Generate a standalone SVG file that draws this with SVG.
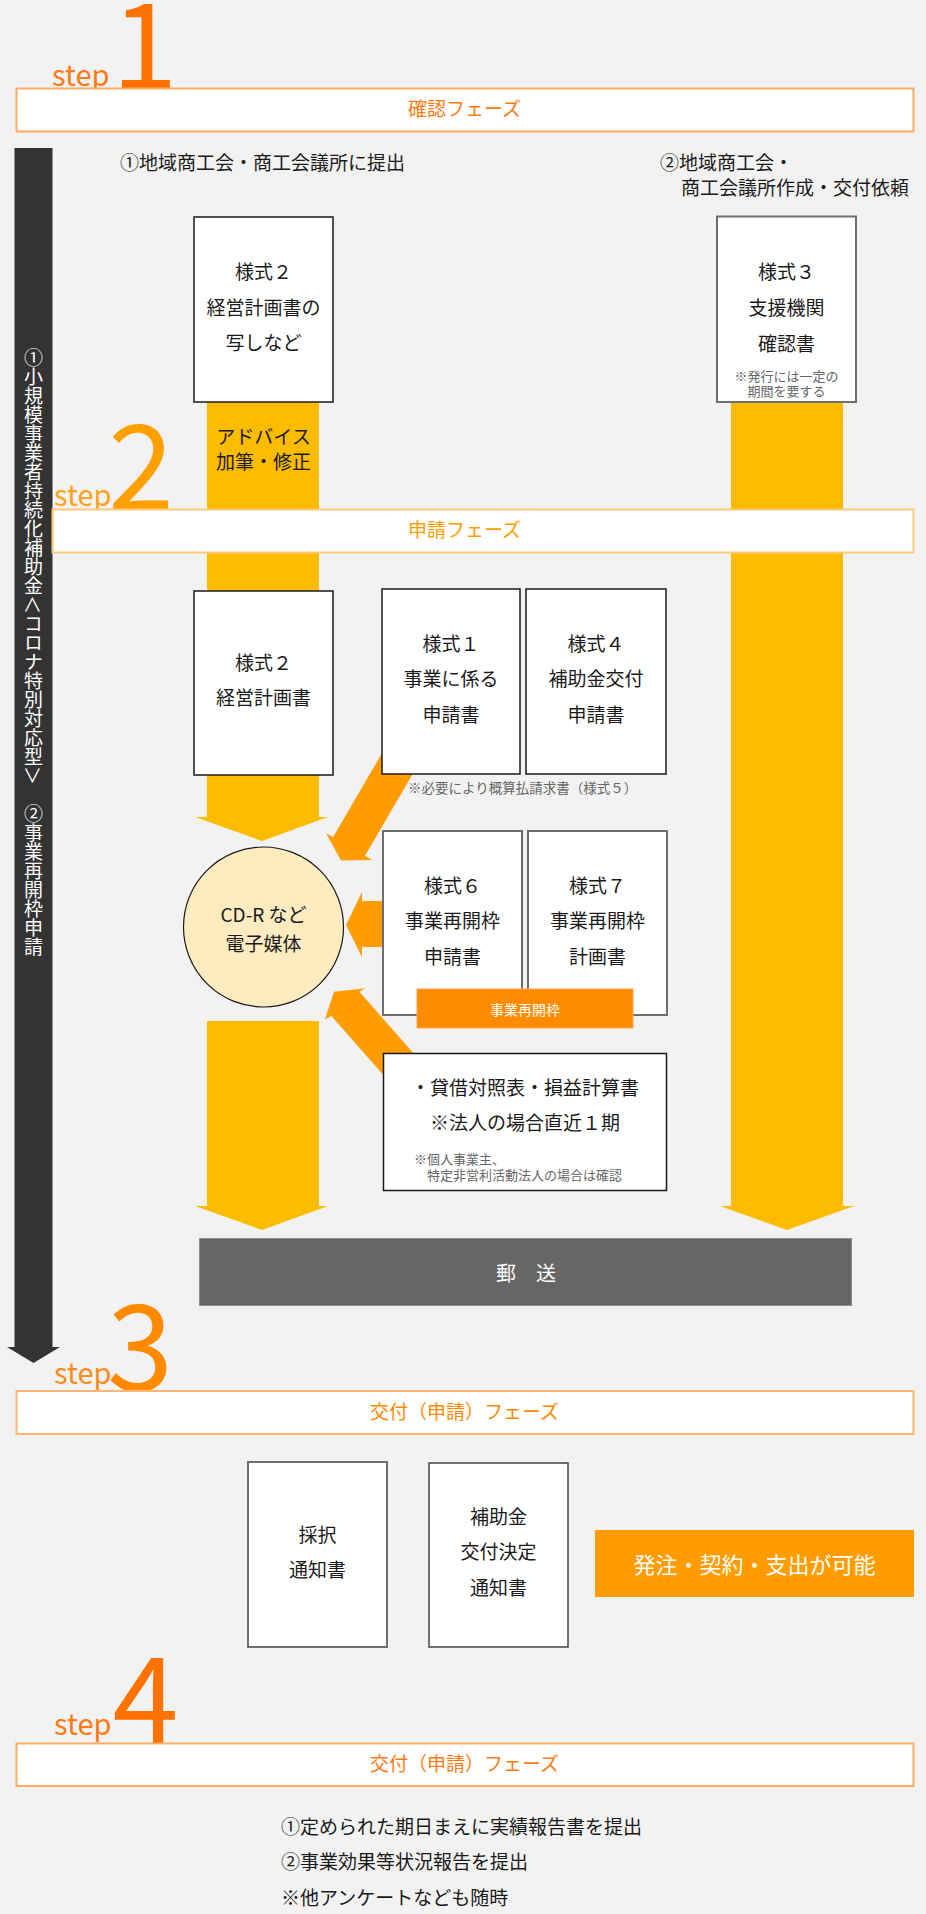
<svg xmlns="http://www.w3.org/2000/svg" width="926" height="1914" viewBox="0 0 926 1914">
<style>
text{font-family:"Noto Sans CJK JP","Noto Sans",sans-serif;}
.t{font-size:19px;fill:#1a1a1a;}
.c{text-anchor:middle;}
.n{font-size:13px;fill:#666;}
.box{fill:#fff;stroke:#1a1a1a;stroke-width:1.5;}
.gbox{fill:#fff;stroke:#6e6e6e;stroke-width:2;}
.step{font-size:29px;}
.num{font-size:119px;text-anchor:middle;}
.yel{fill:#fbbc00;}
.org{fill:#ff9c00;}
</style>
<rect x="0" y="0" width="926" height="1914" fill="#f2f2f2"/>

<g id="connectors">
  <polygon id="col-left-upper" class="yel" points="207,402 319,402 319,817 328,817 262,841 195,817 207,817"/>
  <polygon id="col-left-lower" class="yel" points="207,1021 319,1021 319,1206 328,1206 262,1230 195,1206 207,1206"/>
  <polygon id="col-right" class="yel" points="731,402 843,402 843,1206 854,1206 787,1230 720,1206 731,1206"/>
  <polygon id="arrow-f1" class="org" points="430.5,743.5 365,855.8 372,860 341,860.5 326,833 333,837.2 398.5,724.9"/>
  <polygon id="arrow-f6" class="org" points="392,901 362,901 362,892 346,925 362,957 362,947 392,947"/>
  <polygon id="arrow-bs" class="org" points="431.9,1074.2 359.2,991.6 365.7,988.3 334,991.7 325,1019.3 331.4,1016 404.1,1098.6"/>
  <polygon id="flow-arrow" fill="#333333" points="14.5,148 52.5,148 52.5,1347 60,1347 33.5,1363 7,1347 14.5,1347"/>
</g>

<g id="vertical-label">
  <text x="33.5" y="348" style="writing-mode:vertical-rl;font-size:19px;fill:#ffffff;">①小規模事業者持続化補助金＜コロナ特別対応型＞　②事業再開枠申請</text>
</g>

<g id="step1">
  <text x="52" y="86" class="step" fill="#ff7a12">step</text>
  <text x="144.5" y="89" class="num" fill="#ff7200">1</text>
</g>
<g id="phase1">
  <rect x="16.5" y="88.5" width="897" height="43" fill="#fff" stroke="#ffab66" stroke-width="2"/>
  <text x="464.5" y="116" class="t c" style="fill:#ff7a12">確認フェーズ</text>
</g>

<g id="label-1">
  <text x="120" y="170" class="t">①地域商工会・商工会議所に提出</text>
</g>
<g id="label-2">
  <text x="660" y="170" class="t">②地域商工会・</text>
  <text x="662" y="195" class="t">　商工会議所作成・交付依頼</text>
</g>

<g id="form2-copy">
  <rect x="194" y="217" width="139" height="185" class="box"/>
  <text x="263.5" y="279" class="t c">様式２</text>
  <text x="263.5" y="315" class="t c">経営計画書の</text>
  <text x="263.5" y="350" class="t c">写しなど</text>
</g>

<g id="form3">
  <rect x="717" y="216.5" width="139" height="185.5" class="gbox"/>
  <text x="786.5" y="279" class="t c">様式３</text>
  <text x="786.5" y="315" class="t c">支援機関</text>
  <text x="786.5" y="351" class="t c">確認書</text>
  <text x="786.5" y="380.5" class="n c">※発行には一定の</text>
  <text x="786.5" y="396" class="n c">期間を要する</text>
</g>

<g id="advice">
  <text x="263.5" y="444" class="t c">アドバイス</text>
  <text x="263.5" y="469" class="t c">加筆・修正</text>
</g>

<g id="step2">
  <text x="54" y="506" class="step" fill="#ffa21a">step</text>
  <text x="141" y="510" class="num" fill="#ff9f00">2</text>
</g>
<g id="phase2">
  <rect x="52.5" y="509.5" width="861" height="43" fill="#fff" stroke="#ffc978" stroke-width="2"/>
  <text x="464.5" y="537" class="t c" style="fill:#ff9c00">申請フェーズ</text>
</g>

<g id="form2">
  <rect x="194" y="591" width="139" height="184" class="box"/>
  <text x="263.5" y="670" class="t c">様式２</text>
  <text x="263.5" y="705" class="t c">経営計画書</text>
</g>

<g id="form1">
  <rect x="382" y="589" width="138" height="185" class="box"/>
  <text x="451" y="651" class="t c">様式１</text>
  <text x="451" y="686" class="t c">事業に係る</text>
  <text x="451" y="722" class="t c">申請書</text>
</g>

<g id="form4">
  <rect x="526" y="589" width="140" height="185" class="box"/>
  <text x="596" y="651" class="t c">様式４</text>
  <text x="596" y="686" class="t c">補助金交付</text>
  <text x="596" y="722" class="t c">申請書</text>
</g>

<g id="note-form5">
  <text x="408" y="793" class="n" style="font-size:13.5px">※必要により概算払請求書（様式５）</text>
</g>

<g id="media">
  <circle cx="263.5" cy="927" r="80" fill="#ffebc0" stroke="#1a1a1a" stroke-width="1.2"/>
  <text x="263.5" y="922" class="t c">CD-R など</text>
  <text x="263.5" y="951" class="t c">電子媒体</text>
</g>

<g id="form6">
  <rect x="383" y="831" width="139" height="184" class="gbox"/>
  <text x="452.5" y="893" class="t c">様式６</text>
  <text x="452.5" y="928" class="t c">事業再開枠</text>
  <text x="452.5" y="964" class="t c">申請書</text>
</g>

<g id="form7">
  <rect x="528" y="831" width="139" height="184" class="gbox"/>
  <text x="597.5" y="893" class="t c">様式７</text>
  <text x="597.5" y="928" class="t c">事業再開枠</text>
  <text x="597.5" y="964" class="t c">計画書</text>
</g>

<g id="reopen-tag">
  <rect x="417" y="989" width="216" height="39" fill="#ff8c00" stroke="#ffa64d" stroke-width="1"/>
  <text x="525" y="1015" class="c" style="font-size:14px;fill:#ffffff">事業再開枠</text>
</g>

<g id="financials">
  <rect x="383.5" y="1053.5" width="283" height="137" class="box"/>
  <text x="525" y="1095" class="t c">・貸借対照表・損益計算書</text>
  <text x="525" y="1130" class="t c">※法人の場合直近１期</text>
  <text x="414" y="1164" class="n">※個人事業主、</text>
  <text x="414" y="1180" class="n">　特定非営利活動法人の場合は確認</text>
</g>

<g id="mail">
  <rect x="199.5" y="1238.5" width="652" height="67" fill="#666666" stroke="#8a8a8a" stroke-width="1"/>
  <text x="526" y="1281" class="c" style="font-size:20px;fill:#ffffff">郵　送</text>
</g>

<g id="step3">
  <text x="54" y="1384" class="step" fill="#ff8c1a">step</text>
  <text x="140" y="1390" class="num" fill="#ff8a00">3</text>
</g>
<g id="phase3">
  <rect x="16.5" y="1391" width="897" height="43" fill="#fff" stroke="#ffb670" stroke-width="2"/>
  <text x="464.5" y="1419" class="t c" style="fill:#ff8a00">交付（申請）フェーズ</text>
</g>

<g id="adoption">
  <rect x="248" y="1462" width="139" height="185" class="gbox"/>
  <text x="317.5" y="1542" class="t c">採択</text>
  <text x="317.5" y="1577" class="t c">通知書</text>
</g>

<g id="grant-decision">
  <rect x="429" y="1463" width="139" height="184" fill="#fff" stroke="#444" stroke-width="1.5"/>
  <text x="498.5" y="1524" class="t c">補助金</text>
  <text x="498.5" y="1559" class="t c">交付決定</text>
  <text x="498.5" y="1595" class="t c">通知書</text>
</g>

<g id="order-possible">
  <rect x="595" y="1530" width="319" height="67" fill="#ff9c00"/>
  <text x="754.5" y="1573" class="c" style="font-size:22px;fill:#ffffff">発注・契約・支出が可能</text>
</g>

<g id="step4">
  <text x="54" y="1735" class="step" fill="#ff7a12">step</text>
  <text x="145.5" y="1743" class="num" fill="#ff7200">4</text>
</g>
<g id="phase4">
  <rect x="16.5" y="1743.5" width="897" height="42.5" fill="#fff" stroke="#ffab66" stroke-width="2"/>
  <text x="464.5" y="1771" class="t c" style="fill:#ff7a12">交付（申請）フェーズ</text>
</g>

<g id="final-steps">
  <text x="281" y="1834" class="t">①定められた期日まえに実績報告書を提出</text>
  <text x="281" y="1869" class="t">②事業効果等状況報告を提出</text>
  <text x="281" y="1905" class="t">※他アンケートなども随時</text>
</g>
</svg>
